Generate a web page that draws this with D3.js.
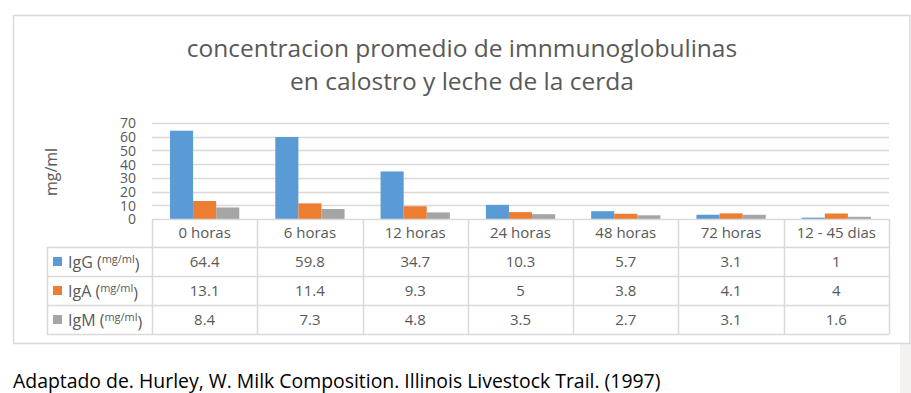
<!DOCTYPE html>
<html><head><meta charset="utf-8">
<script src="https://cdn.jsdelivr.net/npm/d3@7"></script>
<style>html,body{margin:0;padding:0;background:#fff;}svg{display:block;}</style>
</head><body>
<script>
const categories = ["0 horas","6 horas","12 horas","24 horas","48 horas","72 horas","12 - 45 dias"];
const seriesNames = ["IgG","IgA","IgM"];
const igG = [64.4,59.8,34.7,10.3,5.7,3.1,1];
const igA = [13.1,11.4,9.3,5,3.8,4.1,4];
const igM = [8.4,7.3,4.8,3.5,2.7,3.1,1.6];
const yTicks = [0,10,20,30,40,50,60,70];
const titleLines = ["concentracion promedio de imnmunoglobulinas","en calostro y leche de la cerda"];
const yTitle = "mg/ml";
const footer = "Adaptado de. Hurley, W. Milk Composition. Illinois Livestock Trail. (1997)";

const seriesValues = [igG, igA, igM];
const colors = ["#5B9BD5","#ED7D31","#A5A5A5"];
const W = 911, H = 393;
const font = "'Open Sans', sans-serif";
const txt = "#595959", grid = "#d9d9d9";

const svg = d3.select("body").append("svg").attr("width", W).attr("height", H);
svg.append("rect").attr("width", W).attr("height", H).attr("fill", "#fff");
svg.append("rect").attr("x", 900).attr("y", 344).attr("width", 11).attr("height", 49).attr("fill", "#f3f2f1");

// frame
svg.append("rect").attr("x", 13.5).attr("y", 15.5).attr("width", 896.5).attr("height", 328)
  .attr("fill", "#fff").attr("stroke", grid).attr("stroke-width", 1.5);

// title
const title = svg.append("text").attr("text-anchor", "middle").attr("fill", txt)
  .style("font-family", font).style("font-size", "24.5px");
titleLines.forEach((l, i) => title.append("tspan").attr("x", 462).attr("y", 57 + i * 33).text(l));

const x0 = d3.scaleBand().domain(categories).range([152, 889]).padding(0);
const x1 = d3.scaleBand().domain(seriesNames).range([0, x0.bandwidth()]).paddingInner(0).paddingOuter(0.78);
const y = d3.scaleLinear().domain([0, 70]).range([219, 123]);

// gridlines
svg.append("g").selectAll("line").data(yTicks.filter(t => t > 0)).join("line")
  .attr("x1", 152).attr("x2", 889).attr("y1", d => Math.round(y(d)) + 0.5).attr("y2", d => Math.round(y(d)) + 0.5)
  .attr("stroke", grid).attr("stroke-width", 1.3);

// y axis labels
const yAxis = d3.axisLeft(y).tickValues(yTicks).tickSize(0).tickPadding(0);
const ya = svg.append("g").attr("transform", "translate(136,0)").call(yAxis);
ya.select(".domain").remove();
ya.selectAll("text").attr("fill", txt).style("font-family", font).style("font-size", "14px").attr("dy", "0.35em");

// y title
svg.append("text").attr("transform", "translate(57,172) rotate(-90)").attr("text-anchor", "middle")
  .attr("fill", txt).style("font-family", font).style("font-size", "16px").text(yTitle);

// bars
const barData = [];
categories.forEach((c, ci) => seriesNames.forEach((s, si) => barData.push({c, s, si, v: seriesValues[si][ci]})));
svg.append("g").selectAll("rect").data(barData).join("rect")
  .attr("x", d => x0(d.c) + x1(d.s)).attr("width", x1.bandwidth())
  .attr("y", d => y(d.v)).attr("height", d => y(0) - y(d.v)).attr("fill", d => colors[d.si]);

// table
const rowTops = [219, 247, 276, 305, 334];
const tg = svg.append("g").attr("stroke", grid).attr("stroke-width", 1.5).attr("fill", "none");
tg.append("line").attr("x1", 152).attr("x2", 889).attr("y1", 219.5).attr("y2", 219.5);
rowTops.slice(1).forEach(r => tg.append("line").attr("x1", 47).attr("x2", 889).attr("y1", r + 0.5).attr("y2", r + 0.5));
tg.append("line").attr("x1", 47.5).attr("x2", 47.5).attr("y1", 247).attr("y2", 334.5);
categories.forEach(c => tg.append("line").attr("x1", Math.round(x0(c)) + 0.5).attr("x2", Math.round(x0(c)) + 0.5).attr("y1", 219).attr("y2", 334.5));
tg.append("line").attr("x1", 889.5).attr("x2", 889.5).attr("y1", 219).attr("y2", 334.5);

// header
svg.append("g").selectAll("text").data(categories).join("text")
  .attr("x", d => x0(d) + x0.bandwidth() / 2).attr("y", (rowTops[0] + rowTops[1]) / 2).attr("dy", "0.35em")
  .attr("text-anchor", "middle").attr("fill", txt).style("font-family", font).style("font-size", "15px").text(d => d);

// rows
seriesNames.forEach((s, si) => {
  const cy = (rowTops[si + 1] + rowTops[si + 2]) / 2;
  svg.append("rect").attr("x", 53).attr("y", cy - 4.5).attr("width", 9).attr("height", 9).attr("fill", colors[si]);
  const t = svg.append("text").attr("x", 68).attr("y", cy).attr("dy", "0.38em").attr("fill", txt)
    .style("font-family", font).style("font-size", "16px");
  t.append("tspan").text(s + " (");
  t.append("tspan").attr("dy", "-0.4em").style("font-size", "11px").text("mg/ml");
  t.append("tspan").attr("dy", "0.4em").text(")");
  svg.append("g").selectAll("text").data(categories).join("text")
    .attr("x", d => x0(d) + x0.bandwidth() / 2).attr("y", cy).attr("dy", "0.35em")
    .attr("text-anchor", "middle").attr("fill", txt).style("font-family", font).style("font-size", "15px")
    .text((d, ci) => seriesValues[si][ci]);
});

// footer
const ft = svg.append("text").attr("x", 13).attr("y", 388).attr("fill", "#000")
  .style("font-family", font).style("font-size", "18px").text(footer);
const len = ft.node().getComputedTextLength();
ft.style("font-size", (18 * 648 / len).toFixed(2) + "px");
</script>
</body></html>
